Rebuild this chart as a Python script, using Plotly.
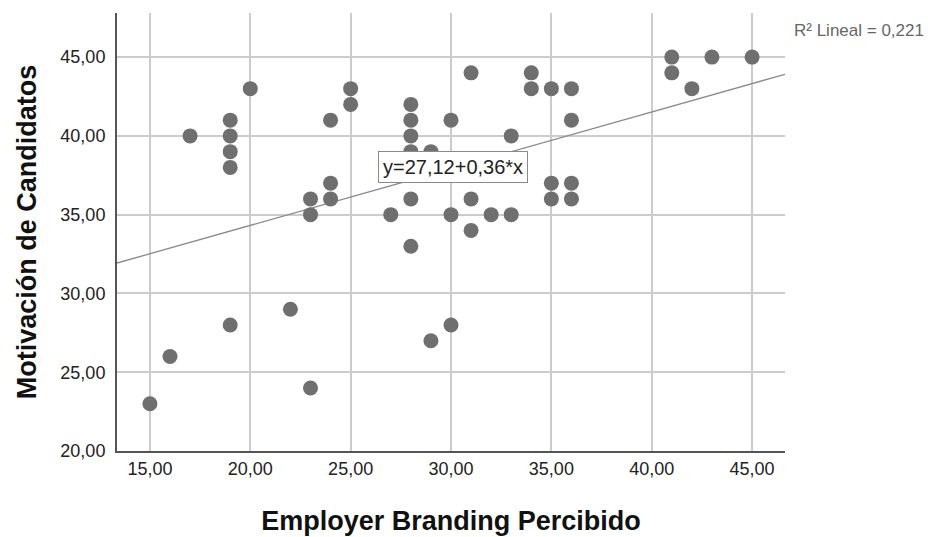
import plotly.graph_objects as go

# Employer branding perceived (x) vs. candidate motivation (y)
branding = [15, 16, 17, 19, 19, 19, 19, 19, 20, 22, 23, 23, 23, 24, 24, 24, 25, 25,
            27, 28, 28, 28, 28, 28, 28, 29, 29, 30, 30, 30, 31, 31, 31, 32, 33, 33,
            34, 34, 35, 35, 35, 36, 36, 36, 36, 41, 41, 42, 43, 45]
motivacion = [23, 26, 40, 41, 40, 39, 38, 28, 43, 29, 36, 35, 24, 41, 37, 36, 43, 42,
              35, 42, 41, 40, 39, 36, 33, 39, 27, 41, 35, 28, 44, 36, 34, 35, 40, 35,
              44, 43, 43, 37, 36, 43, 41, 37, 36, 45, 44, 43, 45, 45]

# Linear fit coefficients and R²
intercept = 27.12
slope = 0.36
r2 = 0.221

x_ticks = [15, 20, 25, 30, 35, 40, 45]
y_ticks = [20, 25, 30, 35, 40, 45]
x_range = [13.36, 46.64]
y_range = [20, 47.8]

FONT = "Liberation Sans, Arial, sans-serif"

fig = go.Figure()

fig.add_trace(go.Scatter(
    x=x_range,
    y=[intercept + slope * v for v in x_range],
    mode="lines",
    line=dict(color="#8a8a8a", width=1.3),
    hoverinfo="skip",
    showlegend=False,
))

fig.add_trace(go.Scatter(
    x=branding, y=motivacion,
    mode="markers",
    marker=dict(color="#6f6f6f", size=15, line=dict(width=0)),
    showlegend=False,
))

fmt = lambda v: f"{v:.2f}".replace(".", ",")

fig.add_annotation(
    x=30.1, y=38.0, xref="x", yref="y",
    text=f"y={fmt(intercept)}+{fmt(slope)}*x",
    showarrow=False,
    font=dict(family=FONT, size=20, color="#222222"),
    bgcolor="white", bordercolor="#8a8a8a", borderwidth=1, borderpad=4,
)

fig.add_annotation(
    x=1.01, y=0.961, xref="paper", yref="paper",
    xanchor="left", yanchor="middle",
    text=f"R² Lineal = {r2:.3f}".replace(".", ","),
    showarrow=False,
    font=dict(family=FONT, size=17, color="#666666"),
)

fig.update_layout(
    width=928, height=537,
    margin=dict(l=117, r=143, t=13, b=86),
    plot_bgcolor="white", paper_bgcolor="white",
    font=dict(family=FONT, color="#222222"),
    separators=", ",
)

fig.update_xaxes(
    range=x_range, tickvals=x_ticks, tickformat=".2f",
    showgrid=True, gridcolor="#cccccc", gridwidth=1.5,
    showline=True, linecolor="#555555", linewidth=2,
    zeroline=False, ticks="", automargin=False,
    tickfont=dict(family=FONT, size=18, color="#222222"),
    title=dict(text="<b>Employer Branding Percibido</b>",
               font=dict(family=FONT, size=27, color="#111111"), standoff=34),
)
fig.update_yaxes(
    range=y_range, tickvals=y_ticks, tickformat=".2f",
    showgrid=True, gridcolor="#cccccc", gridwidth=1.5,
    showline=True, linecolor="#555555", linewidth=2,
    zeroline=False, ticks="", ticklabelstandoff=6, automargin=False,
    tickfont=dict(family=FONT, size=18, color="#222222"),
    title=dict(text="<b>Motivación de Candidatos</b>",
               font=dict(family=FONT, size=27, color="#111111"), standoff=16),
)

fig.write_html("out.html")
